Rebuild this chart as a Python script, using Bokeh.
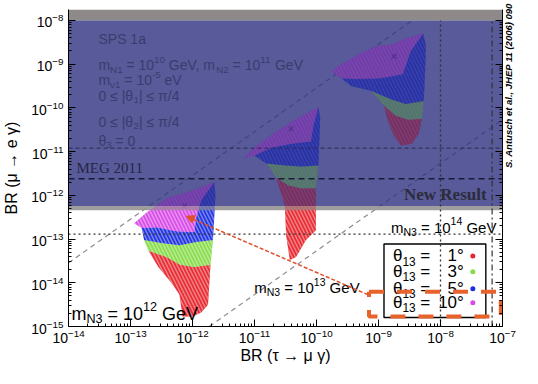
import math
from bokeh.plotting import figure
from bokeh.models import Range1d, FixedTicker, LogAxis, Arrow, NormalHead
from bokeh.core.properties import value
from bokeh.embed import file_html
from bokeh.resources import INLINE

# ---------------- data (log10 of branching ratios) ----------------
x_ticks = [1e-14, 1e-13, 1e-12, 1e-11, 1e-10, 1e-9, 1e-8, 1e-7]
y_ticks = [1e-15, 1e-14, 1e-13, 1e-12, 1e-11, 1e-10, 1e-9, 1e-8]

# m_N3 = 1e12 GeV scan region, one band per theta13
c12_mag_x = [-12.94, -12.74, -12.42, -11.99, -11.65, -11.86, -11.94, -11.97, -12.26, -12.58, -12.82]
c12_mag_y = [-12.64, -12.39, -12.07, -11.89, -11.70, -12.11, -12.50, -12.84, -12.82, -12.73, -12.75]
c12_blu_x = [-12.82, -12.58, -12.26, -11.97, -11.94, -11.86, -11.65, -11.63, -11.67, -11.94, -12.21, -12.50, -12.78]
c12_blu_y = [-12.75, -12.73, -12.82, -12.84, -12.50, -12.11, -11.70, -12.00, -13.02, -13.07, -13.14, -13.09, -13.02]
c12_grn_x = [-12.78, -12.50, -12.21, -11.94, -11.67, -11.71, -11.97, -12.20, -12.42, -12.71]
c12_grn_y = [-13.02, -13.09, -13.14, -13.07, -13.02, -13.59, -13.64, -13.59, -13.41, -13.27]
c12_red_x = [-12.71, -12.42, -12.20, -11.97, -11.71, -11.75, -11.86, -12.00, -12.16, -12.21, -12.34, -12.55]
c12_red_y = [-13.27, -13.41, -13.59, -13.64, -13.59, -14.50, -14.68, -14.77, -14.77, -14.27, -14.00, -13.64]

# m_N3 = 1e13 GeV
c13_mag_x = [-11.18, -11.02, -10.70, -10.38, -9.97, -10.05, -10.09, -10.41, -10.73, -11.00]
c13_mag_y = [-11.16, -10.93, -10.59, -10.30, -9.98, -10.41, -10.77, -10.82, -10.91, -11.09]
c13_blu_x = [-11.00, -10.73, -10.41, -10.09, -10.05, -9.97, -9.94, -9.97, -10.25, -10.49, -10.81]
c13_blu_y = [-11.09, -10.91, -10.82, -10.77, -10.41, -9.98, -10.23, -11.32, -11.34, -11.32, -11.27]
c13_grn_x = [-10.81, -10.49, -10.25, -9.97, -10.01, -10.25, -10.46, -10.65]
c13_grn_y = [-11.27, -11.32, -11.34, -11.32, -11.84, -11.84, -11.77, -11.59]
c13_red_x = [-10.65, -10.46, -10.25, -10.01, -10.01, -10.17, -10.33, -10.43, -10.49, -10.51]
c13_red_y = [-11.59, -11.77, -11.84, -11.84, -12.80, -13.02, -13.41, -13.48, -12.91, -12.23]

# m_N3 = 1e14 GeV
c14_mag_x = [-9.77, -9.57, -9.31, -9.04, -8.77, -8.61, -8.28, -8.48, -8.61, -8.96, -9.36, -9.60]
c14_mag_y = [-9.16, -8.98, -8.77, -8.59, -8.55, -8.43, -8.30, -8.70, -9.23, -9.32, -9.34, -9.32]
c14_blu_x = [-9.60, -9.36, -8.96, -8.61, -8.48, -8.28, -8.24, -8.24, -8.27, -8.56, -8.80, -9.12, -9.44]
c14_blu_y = [-9.32, -9.34, -9.32, -9.23, -8.70, -8.30, -8.55, -8.86, -9.84, -9.91, -9.80, -9.61, -9.50]
c14_grn_x = [-9.12, -8.80, -8.56, -8.27, -8.30, -8.52, -8.72, -8.91]
c14_grn_y = [-9.61, -9.80, -9.91, -9.84, -10.25, -10.27, -10.18, -9.95]
c14_red_x = [-8.91, -8.72, -8.52, -8.30, -8.35, -8.46, -8.64, -8.75, -8.85]
c14_red_y = [-9.95, -10.18, -10.27, -10.25, -10.59, -10.82, -10.86, -10.64, -10.30]

# SPS1a-like reference points ("x")
bf_x = [-12.13, -10.41, -8.75]
bf_y = [-12.25, -10.48, -8.82]

# experimental bounds
meg_new = 5.7e-13
meg_2011 = 2.4e-12
mega_bound = 1.2e-11
mu_future = 1.3e-13
tau_future = 1e-8
tau_babar = 6.8e-8

# diagonal guide lines (log10 endpoints)
diag_x = [[-14.0, -8.2], [-11.73, -7.0]]
diag_y = [[-13.545, -7.745], [-15.0, -10.27]]

theta_labels = ["1°", "3°", "5°", "10°"]
theta_colors = ["#e8262e", "#86dc48", "#1a2ee0", "#d848e8"]
citation = "S. Antusch et al., JHEP 11 (2006) 090"

# ---------------- figure ----------------
Y_TOP = 10 ** -7.75
p = figure(frame_width=434, frame_height=317, x_axis_type="log", y_axis_type="log",
           x_range=Range1d(1e-14, 1e-7), y_range=Range1d(1e-15, Y_TOP),
           output_backend="svg", toolbar_location=None,
           min_border_left=68, min_border_right=20, min_border_top=9, min_border_bottom=38)
p.grid.visible = False
p.outline_line_color = None
p.background_fill_color = "white"
p.border_fill_color = "white"

x_minor = [m * t for t in x_ticks[:-1] for m in range(2, 10)]
y_minor = [m * t for t in y_ticks[:-1] for m in range(2, 10)]
p.xaxis.ticker = FixedTicker(ticks=x_ticks, minor_ticks=x_minor)
p.yaxis.ticker = FixedTicker(ticks=y_ticks, minor_ticks=y_minor)
p.xaxis.axis_label = "BR (τ → μ γ)"
p.yaxis.axis_label = "BR (μ → e γ)"
right_ax = LogAxis(ticker=FixedTicker(ticks=y_ticks, minor_ticks=y_minor),
                   major_label_text_font_size="1px", major_label_text_alpha=0.0, major_label_standoff=0,
                   axis_label=citation, axis_label_standoff=6, axis_label_orientation=math.pi / 2,
                   axis_label_text_align="center", axis_label_text_baseline="middle",
                   axis_label_text_font="Liberation Sans", axis_label_text_font_size="9.5px",
                   axis_label_text_font_style="bold italic", axis_label_text_color="black")
p.add_layout(right_ax, "right")
for ax in [p.xaxis[0], p.yaxis[0], right_ax]:
    ax.major_tick_in = 7
    ax.major_tick_out = 0
    ax.minor_tick_in = 3
    ax.minor_tick_out = 0
    ax.axis_line_color = "black"
    ax.major_tick_line_color = "black"
    ax.minor_tick_line_color = "black"
for ax in [p.xaxis[0], p.yaxis[0]]:
    ax.major_label_text_font = "Liberation Sans"
    ax.major_label_text_font_size = "14px"
    ax.major_label_text_color = "black"
    ax.major_label_standoff = 2
    ax.axis_label_text_font = "Liberation Sans"
    ax.axis_label_text_font_size = "16px"
    ax.axis_label_text_font_style = "normal"
    ax.axis_label_text_color = "black"
    ax.axis_label_standoff = 1
p.yaxis[0].axis_label_standoff = 8
p.yaxis[0].major_label_standoff = 5


def X(px):
    return 10 ** (-14 + (px - 72) / 62.1)


def Y(py):
    return 10 ** (-15 + (332 - py) / 44.0)


def pw(v):
    return [10 ** a for a in v]


clouds = {
    "#e8262e": [(c12_red_x, c12_red_y), (c13_red_x, c13_red_y), (c14_red_x, c14_red_y)],
    "#86dc48": [(c12_grn_x, c12_grn_y), (c13_grn_x, c13_grn_y), (c14_grn_x, c14_grn_y)],
    "#1a2ee0": [(c12_blu_x, c12_blu_y), (c13_blu_x, c13_blu_y), (c14_blu_x, c14_blu_y)],
    "#d848e8": [(c12_mag_x, c12_mag_y), (c13_mag_x, c13_mag_y), (c14_mag_x, c14_mag_y)],
}

# diagonal guides
for dx, dy in zip(diag_x, diag_y):
    p.line(pw(dx), pw(dy), line_color="#8a8a8a", line_width=1.2, line_dash="5 4")


def draw_clouds(alpha, textured):
    for col, bands in clouds.items():
        kw = {}
        if textured:
            kw = dict(hatch_pattern="left_diagonal_line", hatch_color="white", hatch_alpha=0.55,
                      hatch_scale=7, hatch_weight=1.4)
        p.patches([pw(b[0]) for b in bands], [pw(b[1]) for b in bands],
                  fill_color=col, fill_alpha=alpha, line_color=None, **kw)


draw_clouds(0.95, True)
p.scatter(pw(bf_x), pw(bf_y), marker="x", size=7, line_color="#222222", line_width=1.3)

# excluded region overlay
p.quad(left=[1e-14], right=[1e-7], bottom=[1e-8], top=[Y_TOP], fill_color="#8e8a8a", line_color=None)
p.quad(left=[1e-14], right=[1e-7], bottom=[meg_new], top=[1e-8], fill_color="#2e3180", fill_alpha=0.8, line_color=None)
p.quad(left=[1e-14], right=[1e-7], bottom=[meg_new * 0.8], top=[meg_new], fill_color="#969292", fill_alpha=0.9, line_color=None)
draw_clouds(0.25, False)

# bound lines
p.line([1e-14, 1e-7], [mu_future, mu_future], line_color="#333333", line_width=1.3, line_dash="2 3")
p.line([1e-14, 1e-7], [meg_2011, meg_2011], line_color="#1a1a3a", line_width=1.6, line_dash="6 4")
p.line([1e-14, 1e-7], [mega_bound, mega_bound], line_color="#2a2a50", line_width=1.0, line_dash="4 3")

# ---------------- rich text helper ----------------
WID = {' ': 0.278, 'm': 0.833, 'N': 0.722, '=': 0.584, 'G': 0.778, 'e': 0.556, 'V': 0.667,
       ',': 0.278, 'ν': 0.5, '-': 0.333, '≤': 0.584, '|': 0.26, 'θ': 0.556, 'π': 0.6,
       '/': 0.278, 'S': 0.667, 'P': 0.667, 'a': 0.556, '°': 0.4}


def tw(s, fs):
    return sum(WID.get(ch, 0.556) for ch in s) * fs


def rich(px, py, segs, size, color):
    x = px
    for txt, kind in segs:
        if kind == "n":
            fs, dy = size, 0.0
        elif kind == "sub":
            fs, dy = size * 0.7, size * 0.3
        else:
            fs, dy = size * 0.7, -size * 0.38
        lead = len(txt) - len(txt.lstrip(' '))
        x0 = x + lead * WID[' '] * fs
        p.text(x=[X(x0)], y=[Y(py + dy)], text=[txt.strip()], text_font=value("Liberation Sans"),
               text_font_size=f"{fs:.1f}px", text_color=color, text_baseline="middle", text_align="left")
        x += tw(txt, fs)


tc = "#3a3c6e"
rich(102, 43, [("SPS 1a", "n")], 14, tc)
rich(102, 69, [("m", "n"), ("N1", "sub"), (" = 10", "n"), ("10", "sup"), (" GeV, m", "n"), ("N2", "sub"),
               (" = 10", "n"), ("11", "sup"), (" GeV", "n")], 14, tc)
rich(102, 84, [("m", "n"), ("ν1", "sub"), (" = 10", "n"), ("-5", "sup"), (" eV", "n")], 14, tc)
rich(102, 100, [("0 ≤ |θ", "n"), ("1", "sub"), ("| ≤ π/4", "n")], 14, tc)
rich(102, 126, [("0 ≤ |θ", "n"), ("2", "sub"), ("| ≤ π/4", "n")], 14, tc)
rich(102, 145, [("θ", "n"), ("3", "sub"), (" = 0", "n")], 14, tc)

p.text(x=[X(80)], y=[Y(172)], text=["MEG 2011"], text_font=value("Liberation Serif"), text_font_size="15px",
       text_color="#26264a", text_baseline="middle")
p.text(x=[X(408)], y=[Y(199)], text=["New Result"], text_font=value("Liberation Serif"), text_font_size="17px",
       text_font_style="bold", text_color="#2c2c3c", text_baseline="middle")

rich(75, 319, [("m", "n"), ("N3", "sub"), (" = 10", "n"), ("12", "sup"), (" GeV", "n")], 18, "black")
rich(258, 293, [("m", "n"), ("N3", "sub"), (" = 10", "n"), ("13", "sup"), (" GeV", "n")], 15, "black")
rich(395, 232, [("m", "n"), ("N3", "sub"), (" = 10", "n"), ("14", "sup"), (" GeV", "n")], 15, "black")

# ---------------- legend ----------------
p.quad(left=[X(388)], right=[X(490)], bottom=[Y(323)], top=[Y(249)], fill_color="white",
       line_color="black", line_width=1.4)
rows = [261, 277, 294, 308]
for lab, col, ry in zip(theta_labels, theta_colors, rows):
    rich(397, ry, [("θ", "n"), ("13", "sub"), (" =", "n")], 17, "black")
    p.text(x=[X(468)], y=[Y(ry)], text=[lab], text_font=value("Liberation Sans"), text_font_size="17px",
           text_color="black", text_baseline="middle", text_align="right")
p.scatter([X(477)] * 4, [Y(r) for r in rows], size=5, fill_color=theta_colors, line_color=None)

# vertical tau bounds
p.line([tau_future, tau_future], [1e-15, 1e-8], line_color="#333333", line_width=1.3, line_dash="2 3")
p.line([tau_babar, tau_babar], [1e-15, 1e-8], line_color="#333333", line_width=1.2, line_dash="6 3 2 3")

# highlight box + arrow
p.line([X(373), X(505), X(505), X(373), X(373)], [Y(297), Y(297), Y(322), Y(322), Y(297)],
       line_color="#e8622c", line_width=4, line_dash="15 13")
p.add_layout(Arrow(end=NormalHead(size=8, fill_color="#e0502a", line_color="#e0502a"),
                   x_start=X(372), y_start=Y(300), x_end=X(190), y_end=Y(221),
                   line_color="#e0502a", line_width=1.5, line_dash="4 2"))

open("out.html", "w").write(file_html(p, INLINE))
